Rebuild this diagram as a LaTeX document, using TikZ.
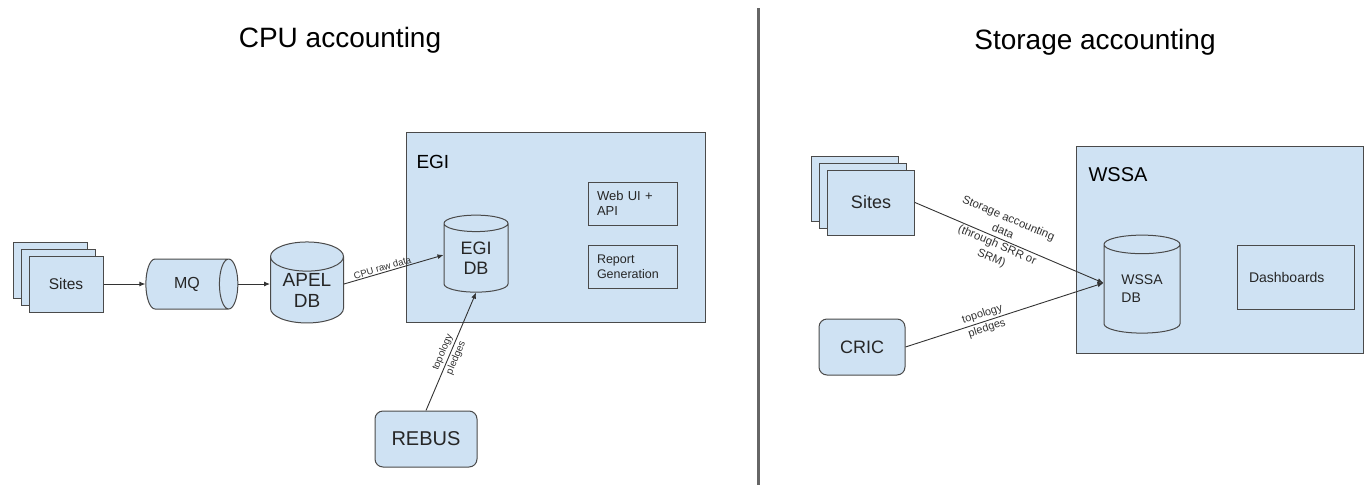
\documentclass[tikz,border=0pt]{standalone}
\usepackage{fontspec}
\setmainfont{Liberation Sans}
\usetikzlibrary{shapes.geometric,shadows,arrows.meta}

\definecolor{boxfill}{HTML}{CFE2F3}
\definecolor{boxline}{HTML}{4A4A4A}
\newcommand\fsz[2]{\fontsize{#1}{#2}\selectfont}

\begin{document}
\begin{tikzpicture}
[
	x=1pt, y=-1pt,
% Box style
	block/.style={
		draw=boxline,
		fill=boxfill,
		line width=1pt,
		inner sep=0pt,
		text=black!85},
% Stacked sites style
	stack/.style={
		block,
		double copy shadow={shadow xshift=-8pt, shadow yshift=7pt}},
% Rounded box style
	rblock/.style={
		block,
		rounded corners=8pt},
% Database style
	db/.style={
		block,
		cylinder,
		shape border rotate=90,
		align=center},
% Inner box style
	inbox/.style={
		draw=boxline,
		line width=1pt,
		align=left,
		text=black!85,
		inner xsep=9pt},
% Arrow style
	flow/.style={
		draw=black!80,
		line width=0.9pt,
		-{Latex[length=6pt,width=5pt]}},
% Edge label style
	elabel/.style={
		text=black!80,
		align=center,
		sloped,
		inner sep=1pt},
]
\useasboundingbox (0,0) rectangle (1369,485);

% Titles and divider
\node[font=\fsz{28}{34}] (cputitle) at (340,40) {CPU accounting};
\node[font=\fsz{28}{34}] (storetitle) at (1095,42) {Storage accounting};
\draw[line width=3pt, black!60] (758,8) -- (758,485);

% CPU accounting
\node[stack, minimum width=74pt, minimum height=56pt,
	font=\fsz{15.5}{18}] (sites) at (66,284) {Sites};

\node[block, cylinder, minimum width=50pt, minimum height=92pt,
	aspect=1.3, font=\fsz{16}{18}] (mq) at (187,284) {MQ};

\node[db, minimum width=73pt, minimum height=81pt,
	aspect=0.6, font=\fsz{19}{21}] (apel) at (307,290) {APEL\\DB};

\node[block, minimum width=299pt, minimum height=190pt] (egi) at (555.5,227) {};
\node[anchor=west, font=\fsz{19}{22}] (egilabel) at (413,162) {EGI};

\node[db, minimum width=64pt, minimum height=77pt,
	aspect=0.53, font=\fsz{18}{20}] (egidb) at (476,258) {EGI\\DB};

\node[inbox, minimum width=89pt, minimum height=43pt, text width=71pt,
	font=\fsz{13}{15}] (webui) at (632.5,203.5) {Web UI +\\API};

\node[inbox, minimum width=89pt, minimum height=43pt, text width=71pt,
	font=\fsz{12.5}{15}] (report) at (632.5,266.5) {Report\\Generation};

\node[rblock, minimum width=102pt, minimum height=56pt,
	font=\fsz{20}{24}] (rebus) at (426,439) {REBUS};

\draw[flow] (sites) -- (mq);
\draw[flow] (mq.east) -- (mq.east -| apel.west);
\draw[flow] ([yshift=6pt]apel.east) -- 
	node[elabel, above, pos=.4, font=\fsz{9.5}{11}] {CPU raw data} ([yshift=3pt]egidb.west);
\draw[flow] (rebus.north) -- 
	node[elabel, pos=.47, font=\fsz{10}{14.5}] {topology\\pledges} (egidb.south);

% Storage accounting
\node[stack, minimum width=87pt, minimum height=65pt,
	font=\fsz{18}{21}] (sites2) at (871,202.5) {Sites};

\node[rblock, minimum width=86pt, minimum height=56pt,
	font=\fsz{18}{21}] (cric) at (862,347) {CRIC};

\node[block, minimum width=287pt, minimum height=207pt] (wssa) at (1219.5,249.5) {};
\node[anchor=west, font=\fsz{20}{24}] (wssalabel) at (1085,175) {WSSA};

\node[db, minimum width=76pt, minimum height=98pt, aspect=0.45,
	align=left, font=\fsz{14}{18}] (wssadb) at (1142,289) {WSSA\\DB};

\node[inbox, minimum width=117pt, minimum height=64pt, text width=93pt,
	inner xsep=12pt, font=\fsz{14}{17}] (dash) at (1295.5,277) {Dashboards};

\draw[flow] (sites2.east) -- 
	node[elabel, pos=.45, font=\fsz{11.5}{14.5}] {Storage accounting\\data\\(through SRR or\\SRM)} ([yshift=6pt]wssadb.west);
\draw[flow] (cric.east) -- 
	node[elabel, pos=.4, font=\fsz{11}{15}] {topology\\pledges} ([yshift=6pt]wssadb.west);

\end{tikzpicture}
\end{document}
